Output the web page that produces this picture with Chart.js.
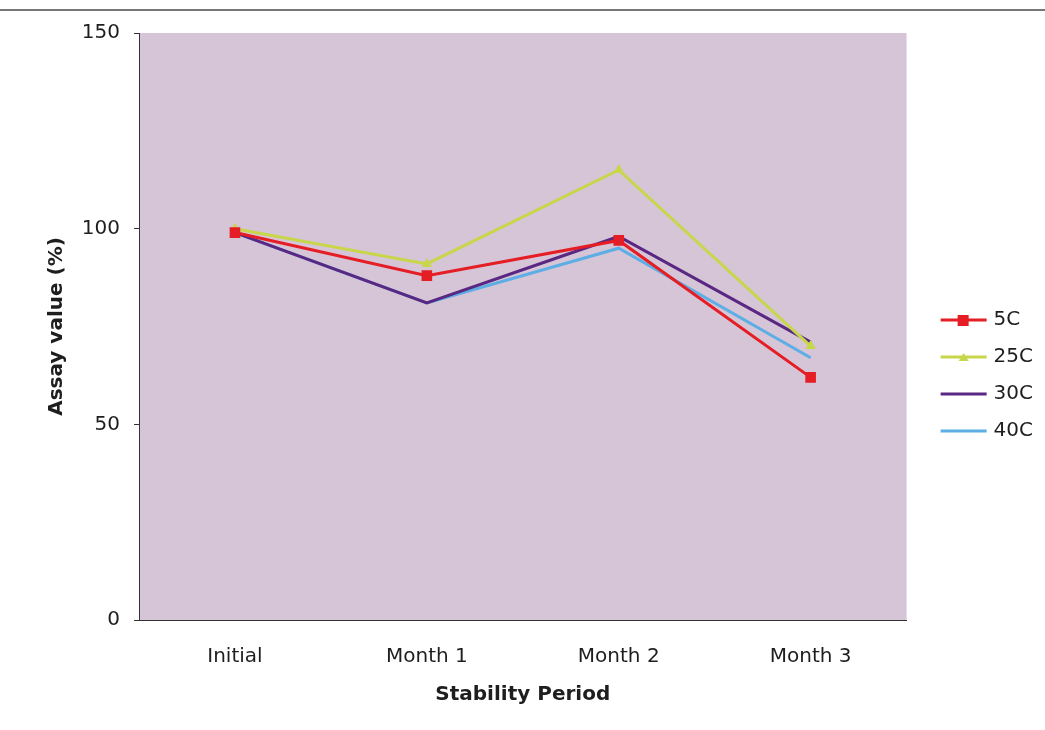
<!DOCTYPE html>
<html>
<head>
<meta charset="utf-8">
<script src="https://cdn.jsdelivr.net/npm/chart.js@4.4.1/dist/chart.umd.min.js"></script>
<style>
  html, body { margin: 0; padding: 0; background: #ffffff; }
  #wrap { width: 1045px; height: 730px; }
</style>
</head>
<body>
<div id="wrap"><canvas id="c" width="1045" height="730"></canvas></div>
<script>
// Stability study: assay value (%) at each storage temperature
const periods  = ['Initial', 'Month 1', 'Month 2', 'Month 3'];
const assay5C  = [99, 88, 97, 62];
const assay25C = [100, 91, 115, 70];
const assay30C = [99, 81, 98, 71];
const assay40C = [99, 81, 95, 67];
const yTicks   = [0, 50, 100, 150];

const FONT = 'DejaVu Sans';
const TEXT = '#1e1e1e';

// Legend key: a short line with the series marker, drawn to a small canvas
function legendKey(color, marker) {
  const c = document.createElement('canvas');
  c.width = 96; c.height = 18;
  const g = c.getContext('2d');
  g.strokeStyle = color;
  g.lineWidth = 3;
  g.beginPath(); g.moveTo(35, 9); g.lineTo(81, 9); g.stroke();
  g.fillStyle = color;
  if (marker === 'rect') {
    g.fillRect(52, 4, 11, 11);
  } else if (marker === 'triangle') {
    g.beginPath(); g.moveTo(58, 5); g.lineTo(63, 13); g.lineTo(53, 13); g.closePath(); g.fill();
  }
  return c;
}

const series = [
  { label: '5C',  data: assay5C,  color: '#e51d25', marker: 'rect',     radius: 7.5 },
  { label: '25C', data: assay25C, color: '#c8d64a', marker: 'triangle', radius: 6 },
  { label: '30C', data: assay30C, color: '#5a2783', marker: 'circle',   radius: 0 },
  { label: '40C', data: assay40C, color: '#5eaee6', marker: 'circle',   radius: 0 }
];

const plotBackground = {
  id: 'plotBackground',
  beforeDraw(chart) {
    const { ctx, chartArea: a } = chart;
    ctx.save();
    ctx.fillStyle = '#d5c5d6';
    ctx.fillRect(a.left, a.top, a.right - a.left, a.bottom - a.top);
    // page rule above the figure
    ctx.strokeStyle = '#4a4a4a';
    ctx.lineWidth = 1.5;
    ctx.beginPath(); ctx.moveTo(0, 10); ctx.lineTo(chart.width, 10); ctx.stroke();
    ctx.restore();
  }
};

new Chart(document.getElementById('c'), {
  type: 'line',
  data: {
    labels: periods,
    datasets: series.map(s => ({
      label: s.label,
      data: s.data,
      borderColor: s.color,
      backgroundColor: s.color,
      borderWidth: 3,
      tension: 0,
      fill: false,
      pointStyle: s.marker,
      pointRadius: s.radius,
      pointHoverRadius: s.radius,
      pointBorderWidth: 0,
      pointBackgroundColor: s.color,
      legendKey: legendKey(s.color, s.radius ? s.marker : null)
    }))
  },
  options: {
    responsive: false,
    animation: false,
    devicePixelRatio: 1,
    layout: { padding: { top: 33, left: 41, right: 2, bottom: 12 } },
    plugins: {
      tooltip: { enabled: false },
      legend: {
        position: 'right',
        labels: {
          usePointStyle: true,
          pointStyleWidth: 60,
          padding: 17,
          color: TEXT,
          font: { family: FONT, size: 20 },
          generateLabels(chart) {
            return chart.data.datasets.map((ds, i) => ({
              text: ds.label,
              fillStyle: ds.borderColor,
              strokeStyle: ds.borderColor,
              lineWidth: 0,
              pointStyle: ds.legendKey,
              hidden: !chart.isDatasetVisible(i),
              datasetIndex: i,
              fontColor: TEXT
            }));
          }
        }
      }
    },
    scales: {
      x: {
        offset: true,
        grid: { display: true, drawOnChartArea: false, drawTicks: false, offset: true },
        border: { display: true, color: '#333333', width: 1 },
        ticks: { color: TEXT, font: { family: FONT, size: 20 }, padding: 25 },
        title: {
          display: true, text: 'Stability Period', color: TEXT,
          font: { family: FONT, size: 20, weight: 'bold' },
          padding: { top: 4, bottom: 11 }
        },
        afterFit(s) { s.height = 98; }
      },
      y: {
        min: 0, max: 150,
        afterBuildTicks(s) { s.ticks = yTicks.map(v => ({ value: v })); },
        grid: { display: true, drawOnChartArea: false, drawTicks: true, tickLength: 5, color: '#333333' },
        border: { display: true, color: '#333333', width: 1 },
        ticks: { color: TEXT, font: { family: FONT, size: 20 }, padding: 14 },
        title: {
          display: true, text: 'Assay value (%)', color: TEXT,
          font: { family: FONT, size: 20, weight: 'bold' },
          padding: { top: 4, bottom: 4 }
        },
        afterFit(s) { s.width = 98; }
      }
    }
  },
  plugins: [plotBackground]
});
</script>
</body>
</html>
